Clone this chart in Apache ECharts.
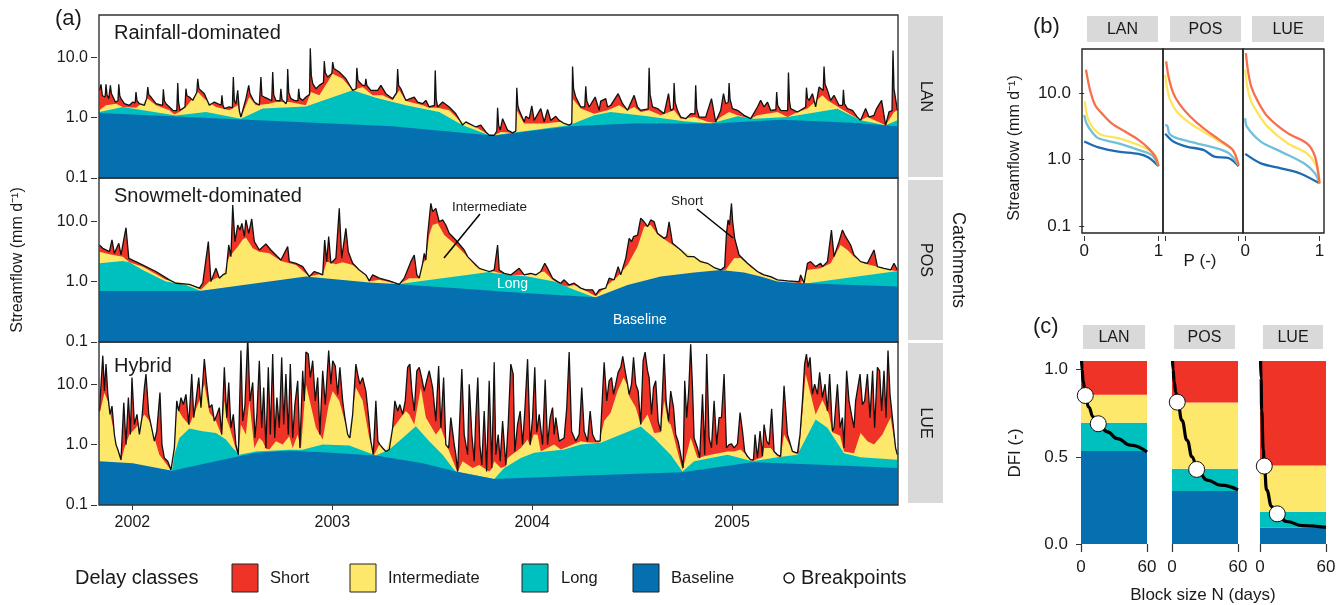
<!DOCTYPE html>
<html><head><meta charset="utf-8">
<script src="https://cdn.jsdelivr.net/npm/echarts@6.0.0/dist/echarts.min.js"></script>
<style>html,body{margin:0;padding:0;background:#fff}#c{width:1343px;height:605px}</style>
</head><body><div id="c"></div>
<script>
// ---------------- DATA ----------------
const catchments = ['LAN','POS','LUE'];
const panelTitles = ['Rainfall-dominated','Snowmelt-dominated','Hybrid'];
const yearTicks = [2002,2003,2004,2005];
const flowTicks = [0.1,1,10];
const dfiTicks = [0,0.5,1];
const blockTicks = [0,60];
const pTicks = [0,1];
const classNames = ['Short','Intermediate','Long','Baseline'];

// Panel (a): decimal year, streamflow (mm/d); cumulative levels
const lanTotal = [[2001.835,2.83],[2001.843,3.55],[2001.85,2.3],[2001.855,2.19],[2001.864,2.2],[2001.868,3.55],[2001.873,2.4],[2001.882,2.06],[2001.887,2.1],[2001.89,3.42],[2001.895,2.5],[2001.902,2.34],[2001.915,1.81],[2001.928,1.9],[2001.932,3.55],[2001.937,2.3],[2001.943,2.06],[2001.96,1.7],[2001.985,1.6],[2002.002,1.81],[2002.014,1.75],[2002.018,2.65],[2002.023,1.9],[2002.035,1.7],[2002.06,1.6],[2002.072,2.1],[2002.077,3.21],[2002.082,2.4],[2002.093,2.19],[2002.118,1.7],[2002.151,1.6],[2002.155,2.94],[2002.16,1.9],[2002.168,1.7],[2002.202,1.32],[2002.222,1.3],[2002.227,3.73],[2002.231,1.8],[2002.238,1.32],[2002.263,1.5],[2002.268,3.01],[2002.273,2.3],[2002.285,2.19],[2002.302,1.93],[2002.322,2.6],[2002.327,4.4],[2002.333,3.0],[2002.343,2.83],[2002.36,2.49],[2002.385,1.6],[2002.41,1.81],[2002.444,1.6],[2002.448,2.34],[2002.453,1.6],[2002.46,1.41],[2002.485,1.5],[2002.5,1.45],[2002.505,4.7],[2002.51,1.9],[2002.518,1.7],[2002.527,2.83],[2002.535,1.3],[2002.543,1.02],[2002.568,2.06],[2002.577,2.2],[2002.582,3.42],[2002.588,2.5],[2002.598,2.49],[2002.61,1.81],[2002.635,1.6],[2002.639,1.7],[2002.643,4.7],[2002.648,2.3],[2002.66,2.19],[2002.677,2.06],[2002.697,1.9],[2002.702,5.7],[2002.707,2.4],[2002.718,1.93],[2002.738,1.9],[2002.743,3.01],[2002.748,2.0],[2002.768,1.7],[2002.773,1.9],[2002.777,6.4],[2002.782,2.6],[2002.793,2.06],[2002.81,1.93],[2002.828,1.9],[2002.832,3.01],[2002.837,2.1],[2002.852,1.93],[2002.868,2.19],[2002.886,2.4],[2002.89,14.1],[2002.895,5.0],[2002.902,3.64],[2002.918,3.01],[2002.935,3.42],[2002.956,3.8],[2002.96,8.6],[2002.965,5.5],[2002.977,4.7],[2002.998,5.4],[2003.002,8.3],[2003.008,6.5],[2003.018,6.4],[2003.035,5.7],[2003.068,4.4],[2003.102,2.83],[2003.119,3.0],[2003.123,6.7],[2003.128,4.2],[2003.135,3.88],[2003.152,3.42],[2003.164,3.4],[2003.168,4.4],[2003.173,3.4],[2003.193,2.83],[2003.227,2.83],[2003.243,3.42],[2003.268,2.49],[2003.302,2.06],[2003.322,2.6],[2003.327,6.4],[2003.332,3.4],[2003.343,3.01],[2003.368,1.93],[2003.41,2.19],[2003.427,1.81],[2003.452,1.7],[2003.468,1.93],[2003.485,1.5],[2003.511,1.6],[2003.515,6.05],[2003.52,2.0],[2003.527,1.5],[2003.552,1.81],[2003.585,1.5],[2003.618,1.16],[2003.652,0.75],[2003.668,0.85],[2003.718,0.7],[2003.743,0.75],[2003.768,0.58],[2003.785,0.51],[2003.81,0.51],[2003.823,0.6],[2003.827,1.46],[2003.832,0.75],[2003.84,0.62],[2003.852,0.96],[2003.877,0.62],[2003.902,0.56],[2003.918,0.6],[2003.923,3.13],[2003.928,1.6],[2003.935,1.32],[2003.96,0.85],[2003.968,1.05],[2003.985,0.96],[2003.998,1.56],[2004.01,0.9],[2004.043,1.41],[2004.06,0.85],[2004.077,1.36],[2004.093,0.9],[2004.118,1.05],[2004.135,0.9],[2004.16,0.8],[2004.185,0.75],[2004.198,0.8],[2004.202,7.0],[2004.207,3.0],[2004.218,2.19],[2004.243,1.5],[2004.263,1.5],[2004.268,3.3],[2004.273,1.9],[2004.285,1.5],[2004.315,2.19],[2004.335,1.32],[2004.343,1.88],[2004.368,2.06],[2004.377,1.5],[2004.393,1.6],[2004.43,2.49],[2004.452,1.7],[2004.477,1.32],[2004.51,2.34],[2004.527,1.5],[2004.543,1.32],[2004.58,1.4],[2004.585,6.7],[2004.59,2.4],[2004.602,1.5],[2004.627,1.41],[2004.66,1.16],[2004.682,2.49],[2004.693,1.32],[2004.706,1.4],[2004.71,3.73],[2004.715,1.8],[2004.727,1.32],[2004.743,1.02],[2004.768,0.96],[2004.793,1.16],[2004.814,1.15],[2004.818,3.42],[2004.823,1.4],[2004.835,1.02],[2004.868,1.02],[2004.897,2.06],[2004.918,0.85],[2004.943,1.32],[2004.957,2.49],[2004.968,1.7],[2004.981,1.8],[2004.985,3.73],[2004.99,2.0],[2005.002,1.41],[2005.027,1.32],[2005.06,1.09],[2005.093,0.96],[2005.127,1.5],[2005.143,1.93],[2005.16,1.5],[2005.177,1.81],[2005.193,1.32],[2005.219,1.35],[2005.223,2.65],[2005.228,1.6],[2005.243,1.32],[2005.278,1.3],[2005.282,5.6],[2005.287,1.9],[2005.293,1.41],[2005.327,1.24],[2005.368,1.5],[2005.372,3.13],[2005.377,2.1],[2005.385,1.93],[2005.402,2.49],[2005.418,1.5],[2005.435,3.21],[2005.456,2.8],[2005.46,7.0],[2005.465,3.6],[2005.477,2.83],[2005.493,1.93],[2005.51,2.34],[2005.535,1.6],[2005.553,1.6],[2005.557,2.9],[2005.562,1.7],[2005.577,1.41],[2005.602,1.32],[2005.627,1.02],[2005.643,0.9],[2005.668,1.41],[2005.685,1.02],[2005.71,1.09],[2005.723,1.41],[2005.748,1.93],[2005.768,0.75],[2005.785,1.24],[2005.8,1.3],[2005.805,12.9],[2005.81,3.0],[2005.827,1.32]];
const lanInter = [[2001.835,1.32],[2001.868,1.6],[2001.918,1.7],[2001.952,1.5],[2002.018,1.46],[2002.077,2.06],[2002.118,1.6],[2002.185,1.32],[2002.21,1.13],[2002.235,1.24],[2002.268,1.5],[2002.327,2.65],[2002.36,2.06],[2002.418,1.5],[2002.485,1.32],[2002.527,1.6],[2002.543,1.0],[2002.585,2.19],[2002.618,1.6],[2002.685,1.7],[2002.718,1.81],[2002.785,1.81],[2002.868,1.6],[2002.893,2.65],[2002.935,2.34],[2002.977,3.88],[2003.002,5.33],[2003.052,4.4],[2003.102,2.83],[2003.152,3.21],[2003.202,2.34],[2003.252,2.34],[2003.302,1.93],[2003.335,2.83],[2003.368,1.88],[2003.452,1.6],[2003.485,1.46],[2003.527,1.46],[2003.585,1.32],[2003.635,0.9],[2003.718,0.7],[2003.785,0.51],[2003.81,0.51],[2003.843,0.58],[2003.902,0.56],[2003.918,0.58],[2003.923,1.32],[2003.96,0.8],[2004.06,0.8],[2004.143,0.85],[2004.185,0.75],[2004.198,0.76],[2004.202,2.06],[2004.243,1.41],[2004.31,1.16],[2004.377,1.32],[2004.435,1.6],[2004.477,1.32],[2004.51,1.5],[2004.543,1.24],[2004.585,1.32],[2004.643,1.09],[2004.71,1.32],[2004.743,0.96],[2004.81,1.02],[2004.877,0.85],[2004.91,0.82],[2004.943,1.02],[2004.985,1.24],[2005.027,1.09],[2005.093,0.96],[2005.127,1.09],[2005.227,1.24],[2005.277,1.02],[2005.31,1.16],[2005.377,1.41],[2005.452,2.34],[2005.477,1.93],[2005.543,1.41],[2005.643,0.9],[2005.677,1.02],[2005.768,0.75],[2005.81,1.24],[2005.827,1.32]];
const lanLong = [[2001.835,1.24],[2001.952,1.5],[2002.218,1.08],[2002.368,1.24],[2002.543,0.96],[2002.652,1.41],[2002.868,1.53],[2003.102,2.83],[2003.218,2.14],[2003.368,1.6],[2003.535,1.24],[2003.652,0.75],[2003.785,0.51],[2003.81,0.51],[2003.902,0.56],[2004.185,0.75],[2004.31,1.09],[2004.393,1.24],[2004.577,1.05],[2004.76,0.87],[2004.893,0.8],[2005.027,1.05],[2005.11,0.96],[2005.277,1.02],[2005.527,1.4],[2005.643,0.9],[2005.768,0.75],[2005.827,0.9]];
const lanBase = [[2001.835,1.19],[2002.55,0.93],[2003.3,0.72],[2003.785,0.51],[2003.81,0.5],[2003.902,0.55],[2004.19,0.72],[2004.5,0.8],[2004.9,0.8],[2005.25,0.92],[2005.6,0.82],[2005.827,0.72]];

const posTotal = [[2001.835,4.04],[2001.852,3.56],[2001.885,3.13],[2001.898,4.89],[2001.91,2.94],[2001.932,4.31],[2001.943,2.76],[2001.968,7.8],[2001.982,2.43],[2002.035,2.01],[2002.118,1.47],[2002.185,1.07],[2002.218,0.94],[2002.285,0.9],[2002.335,0.78],[2002.352,0.94],[2002.38,4.59],[2002.393,1.0],[2002.418,1.66],[2002.435,1.14],[2002.452,1.29],[2002.468,1.37],[2002.482,4.04],[2002.493,2.59],[2002.502,18.5],[2002.513,4.59],[2002.527,8.65],[2002.538,7.16],[2002.548,9.23],[2002.56,5.6],[2002.568,10.5],[2002.582,6.3],[2002.597,10.9],[2002.61,4.59],[2002.635,3.34],[2002.668,4.2],[2002.693,3.34],[2002.718,2.76],[2002.743,2.28],[2002.777,3.79],[2002.785,2.14],[2002.818,2.01],[2002.852,1.77],[2002.885,1.21],[2002.91,1.47],[2002.935,1.37],[2002.952,1.29],[2002.962,4.89],[2002.972,2.14],[2002.982,5.55],[2002.993,2.01],[2003.018,2.43],[2003.035,16.3],[2003.047,2.43],[2003.068,7.6],[2003.08,3.13],[2003.102,2.01],[2003.135,1.56],[2003.168,1.29],[2003.185,1.03],[2003.202,1.29],[2003.235,1.14],[2003.285,1.03],[2003.335,0.9],[2003.36,1.14],[2003.393,2.14],[2003.41,2.76],[2003.423,1.29],[2003.435,1.14],[2003.452,2.01],[2003.46,2.94],[2003.468,2.28],[2003.477,5.9],[2003.493,19.7],[2003.502,14.4],[2003.518,16.3],[2003.535,9.8],[2003.552,10.5],[2003.568,8.65],[2003.585,6.3],[2003.618,4.89],[2003.66,3.34],[2003.677,2.59],[2003.702,2.14],[2003.735,1.66],[2003.785,1.47],[2003.81,1.56],[2003.827,4.04],[2003.835,1.56],[2003.86,1.37],[2003.893,1.29],[2003.935,1.66],[2003.96,1.29],[2003.993,1.37],[2004.018,1.29],[2004.043,1.47],[2004.063,2.01],[2004.077,1.66],[2004.102,1.14],[2004.127,1.0],[2004.143,0.94],[2004.16,1.07],[2004.185,0.88],[2004.21,0.94],[2004.243,0.78],[2004.268,0.73],[2004.302,0.73],[2004.318,0.6],[2004.335,0.73],[2004.368,0.78],[2004.385,1.14],[2004.41,1.07],[2004.43,1.77],[2004.443,1.29],[2004.468,2.43],[2004.485,5.2],[2004.497,4.59],[2004.507,5.55],[2004.527,5.9],[2004.543,11.2],[2004.56,9.8],[2004.577,8.1],[2004.593,10.5],[2004.61,9.8],[2004.627,6.3],[2004.66,5.2],[2004.673,5.55],[2004.685,9.8],[2004.702,4.31],[2004.743,3.34],[2004.777,2.59],[2004.81,2.59],[2004.843,2.14],[2004.877,2.01],[2004.91,1.71],[2004.943,1.56],[2004.963,1.77],[2004.972,6.3],[2004.98,10.5],[2004.987,8.65],[2004.997,19.7],[2005.003,9.8],[2005.013,5.2],[2005.035,2.76],[2005.077,2.01],[2005.127,1.47],[2005.16,1.29],[2005.193,1.21],[2005.227,1.07],[2005.277,1.03],[2005.335,1.0],[2005.343,1.29],[2005.36,0.94],[2005.377,2.01],[2005.393,2.14],[2005.418,1.77],[2005.443,2.01],[2005.452,1.77],[2005.477,2.14],[2005.497,7.16],[2005.51,2.59],[2005.535,4.59],[2005.552,7.16],[2005.568,5.55],[2005.593,4.04],[2005.61,2.76],[2005.643,2.14],[2005.677,2.01],[2005.71,3.34],[2005.727,1.77],[2005.76,1.66],[2005.793,1.56],[2005.81,2.01],[2005.827,1.56]];
const posInter = [[2001.835,3.13],[2001.885,2.83],[2001.952,2.59],[2001.985,2.09],[2002.052,1.77],[2002.168,1.07],[2002.285,0.9],[2002.343,0.73],[2002.385,1.0],[2002.452,1.29],[2002.485,2.59],[2002.527,3.79],[2002.552,5.0],[2002.568,5.3],[2002.602,3.56],[2002.635,3.13],[2002.685,2.94],[2002.743,2.2],[2002.818,1.89],[2002.885,1.21],[2002.935,1.32],[2002.952,1.29],[2002.972,2.14],[2003.018,1.94],[2003.052,2.09],[2003.102,1.89],[2003.168,1.29],[2003.185,1.0],[2003.235,1.07],[2003.335,0.9],[2003.385,1.14],[2003.435,1.14],[2003.452,2.01],[2003.468,2.28],[2003.485,5.9],[2003.502,8.65],[2003.527,9.23],[2003.56,5.9],[2003.618,4.04],[2003.668,2.76],[2003.718,1.8],[2003.785,1.47],[2003.81,1.47],[2003.86,1.32],[2003.91,1.29],[2003.977,1.3],[2004.06,1.47],[2004.102,1.07],[2004.143,0.88],[2004.177,0.83],[2004.21,0.88],[2004.277,0.68],[2004.318,0.57],[2004.377,0.88],[2004.427,1.21],[2004.477,1.89],[2004.527,3.79],[2004.56,8.1],[2004.593,8.65],[2004.627,6.0],[2004.677,4.6],[2004.743,3.34],[2004.81,2.59],[2004.877,2.01],[2004.943,1.56],[2004.968,1.56],[2005.01,2.43],[2005.043,2.45],[2005.093,1.75],[2005.143,1.33],[2005.193,1.17],[2005.26,1.03],[2005.343,0.94],[2005.377,1.56],[2005.443,1.66],[2005.493,2.01],[2005.543,4.04],[2005.577,3.34],[2005.61,2.59],[2005.66,2.0],[2005.727,1.77],[2005.793,1.56],[2005.827,1.47]];
const posLong = [[2001.835,2.01],[2001.952,2.2],[2001.985,2.09],[2002.052,1.56],[2002.168,1.0],[2002.268,0.88],[2002.343,0.7],[2002.9,0.9],[2003.343,0.92],[2003.785,1.44],[2003.81,1.38],[2003.977,1.22],[2004.11,1.0],[2004.21,0.73],[2004.318,0.54],[2004.9,0.8],[2005.36,0.92],[2005.81,1.47],[2005.827,1.47]];
const posBase = [[2001.835,0.7],[2002.335,0.7],[2002.868,1.21],[2003.185,0.97],[2003.335,0.9],[2003.785,0.71],[2003.81,0.7],[2003.977,0.64],[2004.318,0.55],[2004.477,0.88],[2004.643,1.21],[2004.81,1.42],[2004.943,1.56],[2005.06,1.41],[2005.143,1.21],[2005.227,1.0],[2005.36,0.94],[2005.827,0.83]];

const lueTotal = [[2001.835,3.6],[2001.852,29.7],[2001.86,7.7],[2001.868,21.5],[2001.877,6.8],[2001.888,3.16],[2001.898,4.35],[2001.91,1.47],[2001.918,1.0],[2001.927,0.83],[2001.943,0.56],[2001.957,4.95],[2001.968,1.0],[2001.98,6.0],[2001.99,1.47],[2001.998,12.9],[2002.01,2.15],[2002.023,3.16],[2002.035,1.47],[2002.048,2.8],[2002.06,8.8],[2002.068,14.7],[2002.082,3.16],[2002.093,2.15],[2002.11,1.14],[2002.122,1.67],[2002.138,7.26],[2002.148,1.0],[2002.16,0.6],[2002.177,0.53],[2002.193,0.38],[2002.21,0.88],[2002.222,5.3],[2002.232,3.6],[2002.243,6.0],[2002.255,4.6],[2002.268,6.8],[2002.282,2.15],[2002.297,14.7],[2002.307,2.8],[2002.318,5.3],[2002.332,12.9],[2002.343,4.1],[2002.36,26.1],[2002.372,10],[2002.385,4.1],[2002.398,4.6],[2002.41,2.45],[2002.423,3.16],[2002.435,4.1],[2002.447,1.47],[2002.46,19],[2002.472,2.8],[2002.482,10.7],[2002.493,1.9],[2002.505,3.16],[2002.518,1.0],[2002.53,0.68],[2002.543,36],[2002.552,2.45],[2002.563,4.4],[2002.577,60],[2002.588,5.3],[2002.602,10.7],[2002.613,1.29],[2002.623,3.16],[2002.635,24.5],[2002.647,1.9],[2002.657,8.8],[2002.668,0.88],[2002.68,19],[2002.69,1.47],[2002.702,31.6],[2002.712,1.29],[2002.723,6.0],[2002.735,1.9],[2002.747,27.8],[2002.757,2.15],[2002.768,14.7],[2002.78,1.47],[2002.79,21.5],[2002.802,1.29],[2002.813,4.6],[2002.827,11.4],[2002.838,0.88],[2002.852,16.7],[2002.86,5.3],[2002.868,34],[2002.88,31.6],[2002.89,12.9],[2002.902,24.5],[2002.915,5.3],[2002.927,12.9],[2002.938,1.47],[2002.952,16.7],[2002.965,4.6],[2002.982,36],[2002.993,10],[2003.002,24.5],[2003.015,20],[2003.027,6.8],[2003.038,19],[2003.052,5.3],[2003.063,2.8],[2003.077,1.47],[2003.088,1.29],[2003.102,3.16],[2003.118,21.5],[2003.127,14.7],[2003.138,10],[2003.152,12.9],[2003.168,7.7],[2003.182,2.8],[2003.193,1.14],[2003.205,0.68],[2003.218,5.3],[2003.228,1.14],[2003.238,1.0],[2003.252,0.88],[2003.268,0.77],[2003.285,0.83],[2003.302,1.9],[2003.313,5.3],[2003.327,3.6],[2003.338,4.6],[2003.352,3.16],[2003.365,5.3],[2003.377,19],[2003.388,21.5],[2003.398,7.7],[2003.41,3.6],[2003.423,16.7],[2003.435,19],[2003.447,12.9],[2003.46,7.7],[2003.472,11.4],[2003.485,16.7],[2003.502,8.8],[2003.518,2.45],[2003.532,20],[2003.543,1.9],[2003.557,12.9],[2003.568,1.0],[2003.582,0.88],[2003.593,2.8],[2003.61,1.0],[2003.618,0.68],[2003.627,0.36],[2003.638,2.8],[2003.648,17.8],[2003.66,1.47],[2003.677,0.68],[2003.685,10],[2003.698,1.47],[2003.71,0.53],[2003.718,2.8],[2003.728,12.9],[2003.738,1.0],[2003.748,0.46],[2003.76,3.6],[2003.772,0.36],[2003.785,11.4],[2003.798,0.41],[2003.81,23],[2003.818,0.68],[2003.83,1.47],[2003.84,0.53],[2003.852,2.45],[2003.868,0.46],[2003.88,2.15],[2003.893,21.5],[2003.905,14.7],[2003.913,0.77],[2003.927,2.15],[2003.94,3.6],[2003.952,1.0],[2003.963,3.6],[2003.977,26],[2003.99,1.0],[2004.002,2.8],[2004.013,19],[2004.023,1.6],[2004.035,3.16],[2004.052,1.0],[2004.065,12],[2004.077,1.0],[2004.09,2.8],[2004.102,4.1],[2004.11,1.47],[2004.118,2.8],[2004.135,1.14],[2004.16,1.29],[2004.173,4.1],[2004.185,34],[2004.197,1.67],[2004.218,1.14],[2004.235,1.47],[2004.248,8.8],[2004.26,1.67],[2004.277,1.14],[2004.29,3.6],[2004.302,1.47],[2004.318,1.14],[2004.34,1.14],[2004.36,23],[2004.373,5.3],[2004.385,11.4],[2004.397,12.9],[2004.407,6.8],[2004.418,10],[2004.43,15.7],[2004.443,19],[2004.453,29],[2004.465,16.7],[2004.477,10],[2004.485,6.8],[2004.497,10],[2004.507,27.8],[2004.518,10],[2004.53,7.7],[2004.543,2.15],[2004.555,24.5],[2004.565,34],[2004.577,16.7],[2004.585,12.9],[2004.597,3.16],[2004.607,8.8],[2004.618,11.4],[2004.63,2.45],[2004.643,1.67],[2004.66,31.6],[2004.67,5.3],[2004.682,2.45],[2004.693,7.7],[2004.707,4.1],[2004.718,1.47],[2004.73,1.14],[2004.743,0.68],[2004.755,0.41],[2004.763,11.4],[2004.773,2.8],[2004.783,7.7],[2004.793,46],[2004.802,8.8],[2004.81,1.29],[2004.827,0.88],[2004.838,0.6],[2004.852,6.8],[2004.863,0.68],[2004.873,31.6],[2004.885,1.29],[2004.897,0.88],[2004.91,5.3],[2004.923,1.0],[2004.935,2.8],[2004.947,2.8],[2004.96,14.7],[2004.972,0.88],[2004.985,1.0],[2004.997,1.03],[2005.01,0.88],[2005.027,1.03],[2005.04,3.4],[2005.052,1.67],[2005.063,0.77],[2005.077,0.64],[2005.093,0.56],[2005.107,0.56],[2005.115,1.47],[2005.127,0.6],[2005.14,1.67],[2005.152,0.64],[2005.16,2.15],[2005.173,1.14],[2005.185,1.0],[2005.198,3.9],[2005.21,0.77],[2005.227,0.68],[2005.243,0.64],[2005.26,9.4],[2005.277,1.47],[2005.302,0.77],[2005.327,0.72],[2005.34,1.47],[2005.352,5.3],[2005.363,21.5],[2005.372,31.6],[2005.38,19],[2005.39,27.8],[2005.402,6.8],[2005.413,10],[2005.427,6.8],[2005.438,15.7],[2005.452,6.0],[2005.465,10],[2005.477,3.6],[2005.488,14.7],[2005.502,1.67],[2005.51,1.9],[2005.527,10],[2005.54,1.9],[2005.552,2.8],[2005.56,0.88],[2005.573,16.7],[2005.585,5.3],[2005.597,3.16],[2005.61,1.9],[2005.618,5.3],[2005.64,14.7],[2005.652,4.6],[2005.663,5.3],[2005.677,14.7],[2005.69,2.8],[2005.703,16.7],[2005.713,1.9],[2005.727,19],[2005.738,16.7],[2005.748,3.6],[2005.76,16.7],[2005.77,2.8],[2005.78,36],[2005.79,6.8],[2005.802,2.8],[2005.818,0.88],[2005.827,0.68]];
const lueInter = [[2001.835,3.16],[2001.86,7.2],[2001.877,5.3],[2001.91,1.47],[2001.943,0.54],[2001.96,0.88],[2001.985,1.47],[2002.018,1.9],[2002.06,3.16],[2002.085,2.45],[2002.135,0.68],[2002.193,0.38],[2002.21,0.85],[2002.222,4.1],[2002.252,2.8],[2002.285,2.1],[2002.335,5.3],[2002.36,10],[2002.385,3.4],[2002.418,2.45],[2002.447,1.4],[2002.46,5.3],[2002.472,2.6],[2002.485,2.0],[2002.518,0.83],[2002.53,0.66],[2002.543,2.15],[2002.568,1.47],[2002.585,5.3],[2002.61,0.88],[2002.635,1.29],[2002.652,1.14],[2002.668,0.85],[2002.685,0.83],[2002.718,1.14],[2002.752,1.0],[2002.785,1.38],[2002.802,0.88],[2002.827,1.47],[2002.843,0.83],[2002.868,10],[2002.893,4.4],[2002.918,1.9],[2002.952,1.21],[2002.982,4.6],[2003.002,7.7],[2003.035,5.3],[2003.068,2.1],[2003.082,1.25],[2003.118,8.8],[2003.152,5.3],[2003.185,1.29],[2003.21,0.68],[2003.235,1.0],[2003.268,0.77],[2003.302,1.85],[2003.368,3.6],[2003.385,3.16],[2003.41,2.15],[2003.443,8.8],[2003.468,2.8],[2003.518,1.47],[2003.543,1.9],[2003.585,0.77],[2003.618,0.41],[2003.627,0.35],[2003.652,0.53],[2003.702,0.41],[2003.735,0.46],[2003.785,0.36],[2003.798,0.4],[2003.81,0.53],[2003.843,0.41],[2003.868,0.44],[2003.877,0.6],[2003.943,0.88],[2003.977,1.21],[2003.99,0.95],[2004.007,1.47],[2004.027,1.45],[2004.043,0.77],[2004.11,1.0],[2004.143,0.83],[2004.243,1.14],[2004.277,1.08],[2004.335,1.08],[2004.36,2.45],[2004.393,3.4],[2004.427,7.7],[2004.457,12.9],[2004.477,9.5],[2004.485,6.4],[2004.518,4.1],[2004.543,2.15],[2004.577,3.16],[2004.61,1.56],[2004.643,1.6],[2004.66,5.3],[2004.682,2.3],[2004.693,2.15],[2004.727,0.77],[2004.752,0.38],[2004.793,1.29],[2004.827,0.6],[2004.893,0.68],[2004.977,0.77],[2005.01,0.77],[2005.043,0.83],[2005.102,0.53],[2005.127,0.58],[2005.152,0.62],[2005.16,0.88],[2005.193,0.88],[2005.227,0.64],[2005.243,0.62],[2005.26,1.47],[2005.31,0.72],[2005.335,0.72],[2005.368,14.7],[2005.418,3.16],[2005.452,5.5],[2005.485,3.16],[2005.502,1.6],[2005.54,1.4],[2005.56,0.77],[2005.61,0.72],[2005.643,1.56],[2005.677,1.14],[2005.71,1.0],[2005.752,1.47],[2005.793,2.8],[2005.818,0.85],[2005.827,0.66]];
const lueLong = [[2001.835,0.5],[2002.0,0.47],[2002.198,0.37],[2002.21,0.68],[2002.235,1.29],[2002.285,1.85],[2002.352,1.67],[2002.418,1.56],[2002.468,1.21],[2002.502,0.88],[2002.535,0.68],[2002.618,0.77],[2002.785,0.82],[2002.85,0.82],[2002.952,1.0],[2003.085,0.97],[2003.218,0.66],[2003.285,0.83],[2003.352,1.29],[2003.418,2.02],[2003.485,1.14],[2003.552,0.68],[2003.602,0.41],[2003.618,0.36],[2003.81,0.27],[2003.86,0.41],[2003.943,0.6],[2004.01,0.73],[2004.16,0.83],[2004.243,1.0],[2004.343,1.07],[2004.543,2.0],[2004.61,1.29],[2004.693,0.68],[2004.752,0.36],[2004.81,0.53],[2004.977,0.68],[2005.102,0.53],[2005.227,0.62],[2005.327,0.68],[2005.418,2.6],[2005.477,1.9],[2005.56,0.72],[2005.643,0.62],[2005.827,0.56]];
const lueBase = [[2001.835,0.53],[2002.002,0.49],[2002.198,0.37],[2002.452,0.56],[2002.618,0.73],[2002.785,0.79],[2002.952,0.75],[2003.218,0.66],[2003.452,0.49],[2003.618,0.36],[2003.81,0.27],[2004.31,0.31],[2004.752,0.35],[2005.102,0.51],[2005.477,0.46],[2005.827,0.41]];

// Panel (b): exceedance probability P, streamflow
const fdcLanTotal = [[0.023,22.5],[0.077,11.2],[0.144,6.7],[0.234,5.0],[0.369,3.5],[0.55,2.64],[0.73,1.98],[0.865,1.48],[0.955,1.11],[1.0,0.8]];
const fdcLanInter = [[0.009,7.5],[0.023,5.6],[0.054,4.0],[0.122,2.97],[0.234,2.35],[0.46,2.1],[0.73,1.66],[0.865,1.4],[0.955,1.17],[1.0,0.8]];
const fdcLanLong = [[0.0,4.7],[0.032,3.5],[0.1,2.64],[0.19,2.1],[0.46,1.76],[0.73,1.4],[0.91,1.17],[1.0,0.8]];
const fdcLanBase = [[0.0,1.87],[0.19,1.53],[0.46,1.32],[0.73,1.22],[0.865,1.08],[1.0,0.8]];
const fdcPosTotal = [[0.013,30],[0.045,17.8],[0.11,10],[0.2,6.7],[0.34,4.45],[0.52,2.97],[0.74,1.98],[0.92,1.4],[1.0,0.83]];
const fdcPosInter = [[0.0,18.9],[0.022,12.6],[0.067,7.9],[0.157,5.3],[0.34,3.5],[0.52,2.64],[0.74,1.87],[0.92,1.4],[1.0,0.83]];
const fdcPosLong = [[0.0,3.33],[0.03,3.2],[0.058,2.44],[0.157,2.1],[0.43,1.76],[0.7,1.48],[0.87,1.24],[1.0,0.83]];
const fdcPosBase = [[0.0,2.44],[0.11,1.87],[0.29,1.57],[0.52,1.4],[0.67,1.11],[0.87,1.05],[1.0,0.8]];
const fdcLueTotal = [[0.009,40],[0.035,22.5],[0.08,12.6],[0.17,7.5],[0.3,4.45],[0.57,2.5],[0.83,1.76],[0.94,1.11],[1.0,0.44]];
const fdcLueInter = [[0.0,22.5],[0.027,12.6],[0.08,7.5],[0.17,5.0],[0.3,3.14],[0.57,1.76],[0.83,1.24],[0.96,0.78],[1.0,0.44]];
const fdcLueLong = [[0.0,4.2],[0.022,3.14],[0.21,1.87],[0.48,1.32],[0.79,0.88],[0.94,0.62],[1.0,0.44]];
const fdcLueBase = [[0.0,1.22],[0.21,0.88],[0.48,0.74],[0.74,0.62],[1.0,0.44]];

// Panel (c): block size N (days), DFI
const dfiLan = [[0.5,1.05],[1,1.0],[2,0.93],[4,0.85],[7,0.785],[11,0.73],[16,0.69],[24,0.643],[33,0.605],[45,0.567],[60,0.528]];
const dfiPos = [[0.5,1.05],[1,1.0],[2,0.93],[3.5,0.87],[5.2,0.814],[9,0.709],[13.7,0.595],[18.3,0.5],[22.8,0.428],[32,0.367],[44,0.338],[60,0.31]];
const dfiLue = [[0.5,1.05],[1,0.95],[1.5,0.77],[3,0.54],[3.9,0.447],[6,0.31],[10.6,0.215],[15.8,0.173],[24,0.129],[39,0.105],[60,0.095]];
const bpLan = [[3.9,0.852],[15.7,0.69]];
const bpPos = [[4.8,0.814],[22.4,0.428]];
const bpLue = [[3.9,0.447],[15.7,0.173]];
const bandLan = [0.534,0.696,0.857,1.05];
const bandPos = [0.304,0.432,0.812,1.05];
const bandLue = [0.095,0.183,0.45,1.05];

// ---------------- STYLE ----------------
const FONT = '"Liberation Sans", Arial, sans-serif';
const C_SHORT = '#f03327', C_INTER = '#fee86c', C_LONG = '#00bfbf', C_BASE = '#0570b0';
const classColors = [C_SHORT, C_INTER, C_LONG, C_BASE];
const FDC_COLORS = ['#1f6bb2','#70bfdb','#fee35e','#f5704c'];
const INK = '#1a1a1a';
const X_MIN = 2001.833, X_MAX = 2005.83;

const grids = [], xAxes = [], yAxes = [], series = [];
const noLine = {show:false};

// ---- panel (a)
const aTops = [15,179,342];
const tsData = [[lanTotal,lanInter,lanLong,lanBase],[posTotal,posInter,posLong,posBase],[lueTotal,lueInter,lueLong,lueBase]];
for (let i=0;i<3;i++){
  grids.push({left:99, top:aTops[i], width:799, height:163});
  xAxes.push({gridIndex:i, type:'value', min:X_MIN, max:X_MAX, axisLine:noLine, splitLine:{show:false},
    axisTick:{show:i===2, customValues:yearTicks, length:5, lineStyle:{color:'#333'}},
    axisLabel:{show:i===2, customValues:yearTicks, formatter:v=>String(Math.round(v)), fontSize:16, color:INK, margin:10, fontFamily:FONT}});
  yAxes.push({gridIndex:i, type:'log', logBase:10, min:0.1, max:50, offset:2, axisLine:noLine, splitLine:{show:false},
    axisTick:{show:true, customValues:flowTicks, length:6, lineStyle:{color:'#333'}},
    axisLabel:{customValues:flowTicks, formatter:v=>Number(v).toFixed(1), fontSize:16, color:INK, margin:9, fontFamily:FONT}});
  const [tot,inter,lng,base] = tsData[i];
  const mk = (data,color,z)=>({type:'line', xAxisIndex:i, yAxisIndex:i, data, symbol:'none', showSymbol:false,
    lineStyle:{width:0, opacity:0}, areaStyle:{color, opacity:1, origin:'start'}, z, silent:true, clip:true});
  series.push(mk(tot,C_SHORT,2), mk(inter,C_INTER,3), mk(lng,C_LONG,4), mk(base,C_BASE,5));
  series.push({type:'line', xAxisIndex:i, yAxisIndex:i, data:tot, symbol:'none', showSymbol:false,
    lineStyle:{color:'#111', width:1.3}, z:6, silent:true, clip:true});
}

// ---- panel (b)
const bLefts = [1082,1163,1243], bWidths = [81,80,81];
const fdcSets = [[fdcLanBase,fdcLanLong,fdcLanInter,fdcLanTotal],[fdcPosBase,fdcPosLong,fdcPosInter,fdcPosTotal],[fdcLueBase,fdcLueLong,fdcLueInter,fdcLueTotal]];
for (let j=0;j<3;j++){
  const gi = 3+j;
  grids.push({left:bLefts[j], top:49, width:bWidths[j], height:184});
  xAxes.push({gridIndex:gi, type:'value', min:-0.03, max:1.06, offset:3, axisLine:noLine, splitLine:{show:false},
    axisTick:{customValues:pTicks, length:5, lineStyle:{color:'#333'}},
    axisLabel:{show:j!==1, customValues:pTicks, fontSize:17, color:INK, margin:7, fontFamily:FONT}});
  yAxes.push({gridIndex:gi, type:'log', logBase:10, min:0.079, max:46, offset:3, axisLine:noLine, splitLine:{show:false},
    axisTick:{show:j===0, customValues:flowTicks, length:5, lineStyle:{color:'#333'}},
    axisLabel:{show:j===0, customValues:flowTicks, formatter:v=>Number(v).toFixed(1), fontSize:17, color:INK, margin:8, fontFamily:FONT}});
  fdcSets[j].forEach((d,k)=>series.push({type:'line', xAxisIndex:gi, yAxisIndex:gi, data:d, symbol:'none', showSymbol:false,
    smooth:0.3, lineStyle:{color:FDC_COLORS[k], width:2.3}, z:3+k, silent:true}));
}

// ---- panel (c)
const cLefts = [1081,1172,1260];
const dfiSets = [dfiLan,dfiPos,dfiLue], bpSets = [bpLan,bpPos,bpLue], bandSets = [bandLan,bandPos,bandLue];
const bandColors = [C_BASE,C_LONG,C_INTER,C_SHORT];
for (let j=0;j<3;j++){
  const gi = 6+j;
  grids.push({left:cLefts[j], top:361, width:66, height:183});
  xAxes.push({gridIndex:gi, type:'value', min:0, max:60, offset:3, axisLine:noLine, splitLine:{show:false},
    axisTick:{customValues:blockTicks, length:8, lineStyle:{color:'#333', width:1.2}},
    axisLabel:{customValues:blockTicks, fontSize:17, color:INK, margin:12, fontFamily:FONT}});
  yAxes.push({gridIndex:gi, type:'value', min:0, max:1.05, offset:4, axisLine:noLine, splitLine:{show:false},
    axisTick:{show:j===0, customValues:dfiTicks, length:5, lineStyle:{color:'#333'}},
    axisLabel:{show:j===0, customValues:dfiTicks, formatter:v=>Number(v).toFixed(1), fontSize:17, color:INK, margin:9, fontFamily:FONT}});
  const bands = bandSets[j];
  series.push({type:'line', xAxisIndex:gi, yAxisIndex:gi, data:dfiSets[j], symbol:'none', showSymbol:false,
    smooth:true, smoothMonotone:'x', lineStyle:{color:'#000', width:3.2}, z:4, silent:true, clip:true,
    markArea:{silent:true, label:{show:false},
      data:bands.map((t,k)=>[{yAxis:k?bands[k-1]:0, itemStyle:{color:bandColors[k], opacity:1}},{yAxis:t}])}});
  series.push({type:'scatter', xAxisIndex:gi, yAxisIndex:gi, data:bpSets[j], symbol:'circle', symbolSize:16,
    itemStyle:{color:'#ffffff', borderColor:'#111', borderWidth:1, opacity:1}, z:6, silent:true});
}

// ---------------- GRAPHIC (frames, strips, texts, legend) ----------------
const g = [];
const txt = (x,y,text,o={})=>g.push({type:'text', x, y, rotation:o.rot||0, z:100, silent:true,
  style:{text, x:0, y:0, fill:o.color||INK, font:`${o.size||16}px ${FONT}`,
    textAlign:o.align||'left', align:o.align||'left', textVerticalAlign:'middle', verticalAlign:'middle'}});
const rect = (x,y,w,h,fill,stroke,lw)=>g.push({type:'rect', z:99, silent:true, shape:{x,y,width:w,height:h},
  style:{fill:fill||'none', stroke:stroke||null, lineWidth:lw||0}});
const seg = (x1,y1,x2,y2)=>g.push({type:'line', z:100, silent:true, shape:{x1,y1,x2,y2}, style:{stroke:'#000', lineWidth:1.5}});

// frames (a)
rect(99,15,799,163,'none','#333',1.4); rect(99,178,799,164,'none','#333',1.4); rect(99,342,799,163,'none','#333',1.4);
// frames (b)
rect(1082,49,81,184,'none','#222',1.4); rect(1163,49,80,184,'none','#222',1.4); rect(1243,49,81,184,'none','#222',1.4);

// strips (a)
const stripY = [[16,161],[180,160],[343,160]];
stripY.forEach((s,i)=>{ rect(908,s[0],35,s[1],'#d9d9d9'); txt(925.5,s[0]+s[1]/2,catchments[i],{align:'center',rot:-Math.PI/2,size:16}); });
txt(958,260,'Catchments',{align:'center',rot:-Math.PI/2,size:18});
// strips (b)
[[1087,71],[1170,71],[1252,72]].forEach((s,i)=>{ rect(s[0],16,s[1],26,'#d9d9d9'); txt(s[0]+s[1]/2,29.5,catchments[i],{align:'center',size:16}); });
// strips (c)
[[1083,62],[1174,61],[1263,60]].forEach((s,i)=>{ rect(s[0],325,s[1],24,'#d9d9d9'); txt(s[0]+s[1]/2,337.5,catchments[i],{align:'center',size:16}); });

// panel labels / titles
txt(55,19,'(a)',{size:22}); txt(1033,27,'(b)',{size:22}); txt(1033,327,'(c)',{size:22});
txt(114,33,panelTitles[0],{size:20}); txt(114,196,panelTitles[1],{size:20}); txt(114,366,panelTitles[2],{size:20});
txt(18,260,'Streamflow (mm d\u207B\u00B9)',{align:'center',rot:Math.PI/2,size:16});
txt(1015,148,'Streamflow (mm d\u207B\u00B9)',{align:'center',rot:Math.PI/2,size:16});
txt(1015,453,'DFI (-)',{align:'center',rot:Math.PI/2,size:17});
txt(1200,261,'P (-)',{align:'center',size:17});
txt(1203,595,'Block size N (days)',{align:'center',size:17});

// annotations in POS panel
txt(452,207,'Intermediate',{size:13.5}); seg(480,214,444,258);
txt(671,201,'Short',{size:13.5}); seg(697,209,733,238);
txt(497,284,'Long',{size:14,color:'#ffffff'});
txt(613,320,'Baseline',{size:14,color:'#ffffff'});

// legend
txt(75,578,'Delay classes',{size:20});
const legX = [232,350,522,633], legTX = [270,388,561,671];
classNames.forEach((n,k)=>{ rect(legX[k],564,26,28,classColors[k],'#222',1); txt(legTX[k],578,n,{size:16.5}); });
g.push({type:'circle', z:100, silent:true, shape:{cx:789,cy:578,r:5}, style:{fill:'#fff', stroke:'#111', lineWidth:1.4}});
txt(801,578,'Breakpoints',{size:20});

const chart = echarts.init(document.getElementById('c'), null, {renderer:'canvas'});
chart.setOption({
  animation:false,
  backgroundColor:'#ffffff',
  textStyle:{fontFamily:FONT},
  grid:grids, xAxis:xAxes, yAxis:yAxes, series, graphic:{elements:g}
});
</script></body></html>
